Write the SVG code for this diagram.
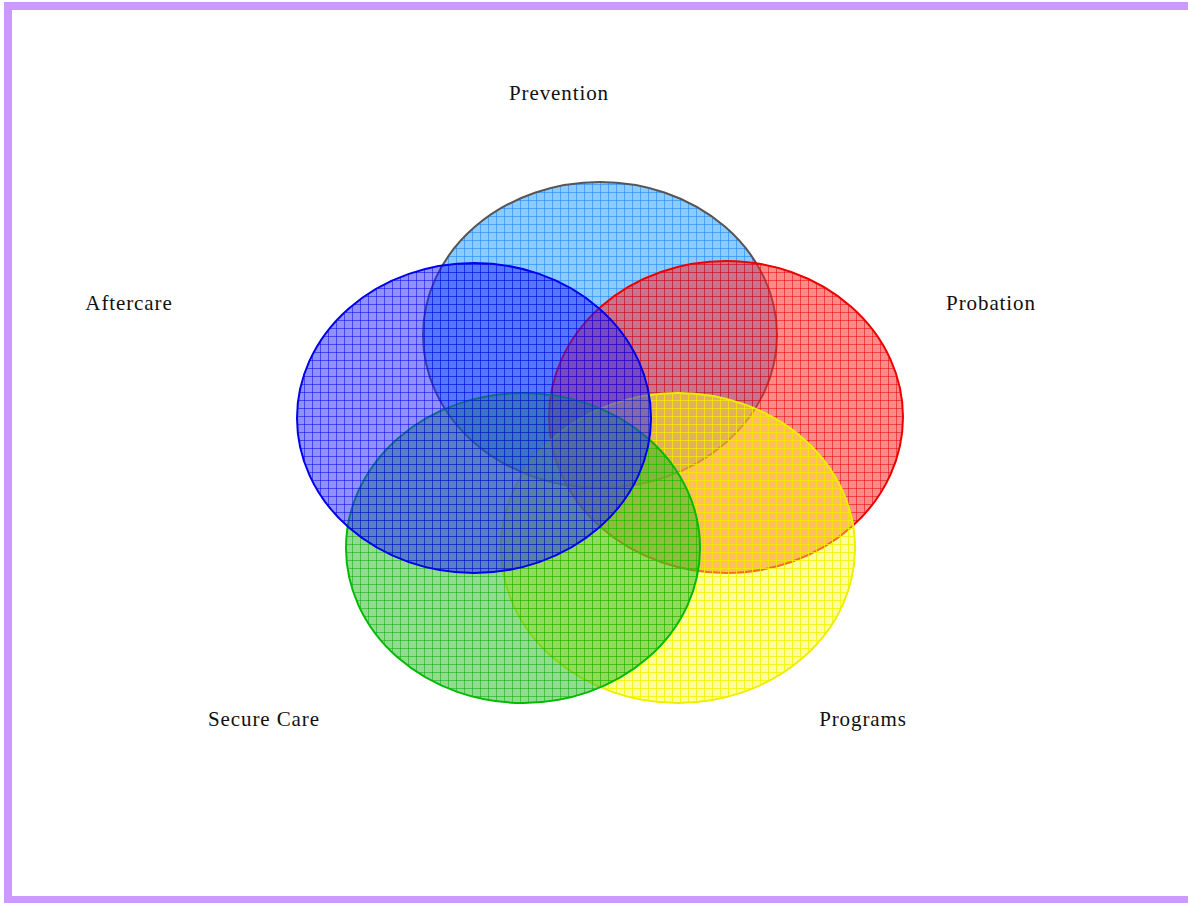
<svg xmlns="http://www.w3.org/2000/svg" width="1188" height="903" viewBox="0 0 1188 903">
<style>
.lbl{font-family:"Liberation Serif","Times New Roman",serif;font-size:21px;letter-spacing:0.9px;fill:#111}
.e{stroke-width:2}
</style>
<defs>
<pattern id="pB" width="8" height="8" patternUnits="userSpaceOnUse">
<rect width="8" height="8" fill="#3fa9ff" fill-opacity="0.6"/>
<path d="M0 0.5H8M0.5 0V8" stroke="#1a8cff" stroke-width="1" stroke-opacity="0.6"/>
</pattern>
<pattern id="pR" width="8" height="8" patternUnits="userSpaceOnUse">
<rect width="8" height="8" fill="#ff2a2a" fill-opacity="0.55"/>
<path d="M0 0.5H8M0.5 0V8" stroke="#e00000" stroke-width="1" stroke-opacity="0.5"/>
</pattern>
<pattern id="pY" width="8" height="8" patternUnits="userSpaceOnUse">
<rect width="8" height="8" fill="#ffff20" fill-opacity="0.45"/>
<path d="M0 0.5H8M0.5 0V8" stroke="#f4f400" stroke-width="1" stroke-opacity="0.8"/>
</pattern>
<pattern id="pG" width="8" height="8" patternUnits="userSpaceOnUse">
<rect width="8" height="8" fill="#22bb22" fill-opacity="0.5"/>
<path d="M0 0.5H8M0.5 0V8" stroke="#00aa00" stroke-width="1" stroke-opacity="0.5"/>
</pattern>
<pattern id="pA" width="8" height="8" patternUnits="userSpaceOnUse">
<rect width="8" height="8" fill="#2222ff" fill-opacity="0.5"/>
<path d="M0 0.5H8M0.5 0V8" stroke="#0000dd" stroke-width="1" stroke-opacity="0.5"/>
</pattern>
</defs>
<rect x="8" y="6" width="1190" height="894" fill="#fff" stroke="#cc99ff" stroke-width="8"/>
<g id="prevention"><ellipse class="e" cx="600" cy="335" rx="177" ry="153" fill="url(#pB)" stroke="#555"/></g>
<g id="probation"><ellipse class="e" cx="726" cy="417" rx="177" ry="156" fill="url(#pR)" stroke="#ee0000"/></g>
<g id="programs"><ellipse class="e" cx="678" cy="548" rx="177" ry="155" fill="url(#pY)" stroke="#eeee00"/></g>
<g id="securecare"><ellipse class="e" cx="523" cy="548" rx="177" ry="155" fill="url(#pG)" stroke="#00bb00"/></g>
<g id="aftercare"><ellipse class="e" cx="474" cy="418" rx="177" ry="155" fill="url(#pA)" stroke="#0000ee"/></g>
<g id="connectors"></g>
<g id="labels">
<text class="lbl" x="559" y="100" text-anchor="middle">Prevention</text>
<text class="lbl" x="129" y="310" text-anchor="middle">Aftercare</text>
<text class="lbl" x="991" y="310" text-anchor="middle">Probation</text>
<text class="lbl" x="264" y="726" text-anchor="middle">Secure Care</text>
<text class="lbl" x="863" y="726" text-anchor="middle">Programs</text>
</g>
</svg>
